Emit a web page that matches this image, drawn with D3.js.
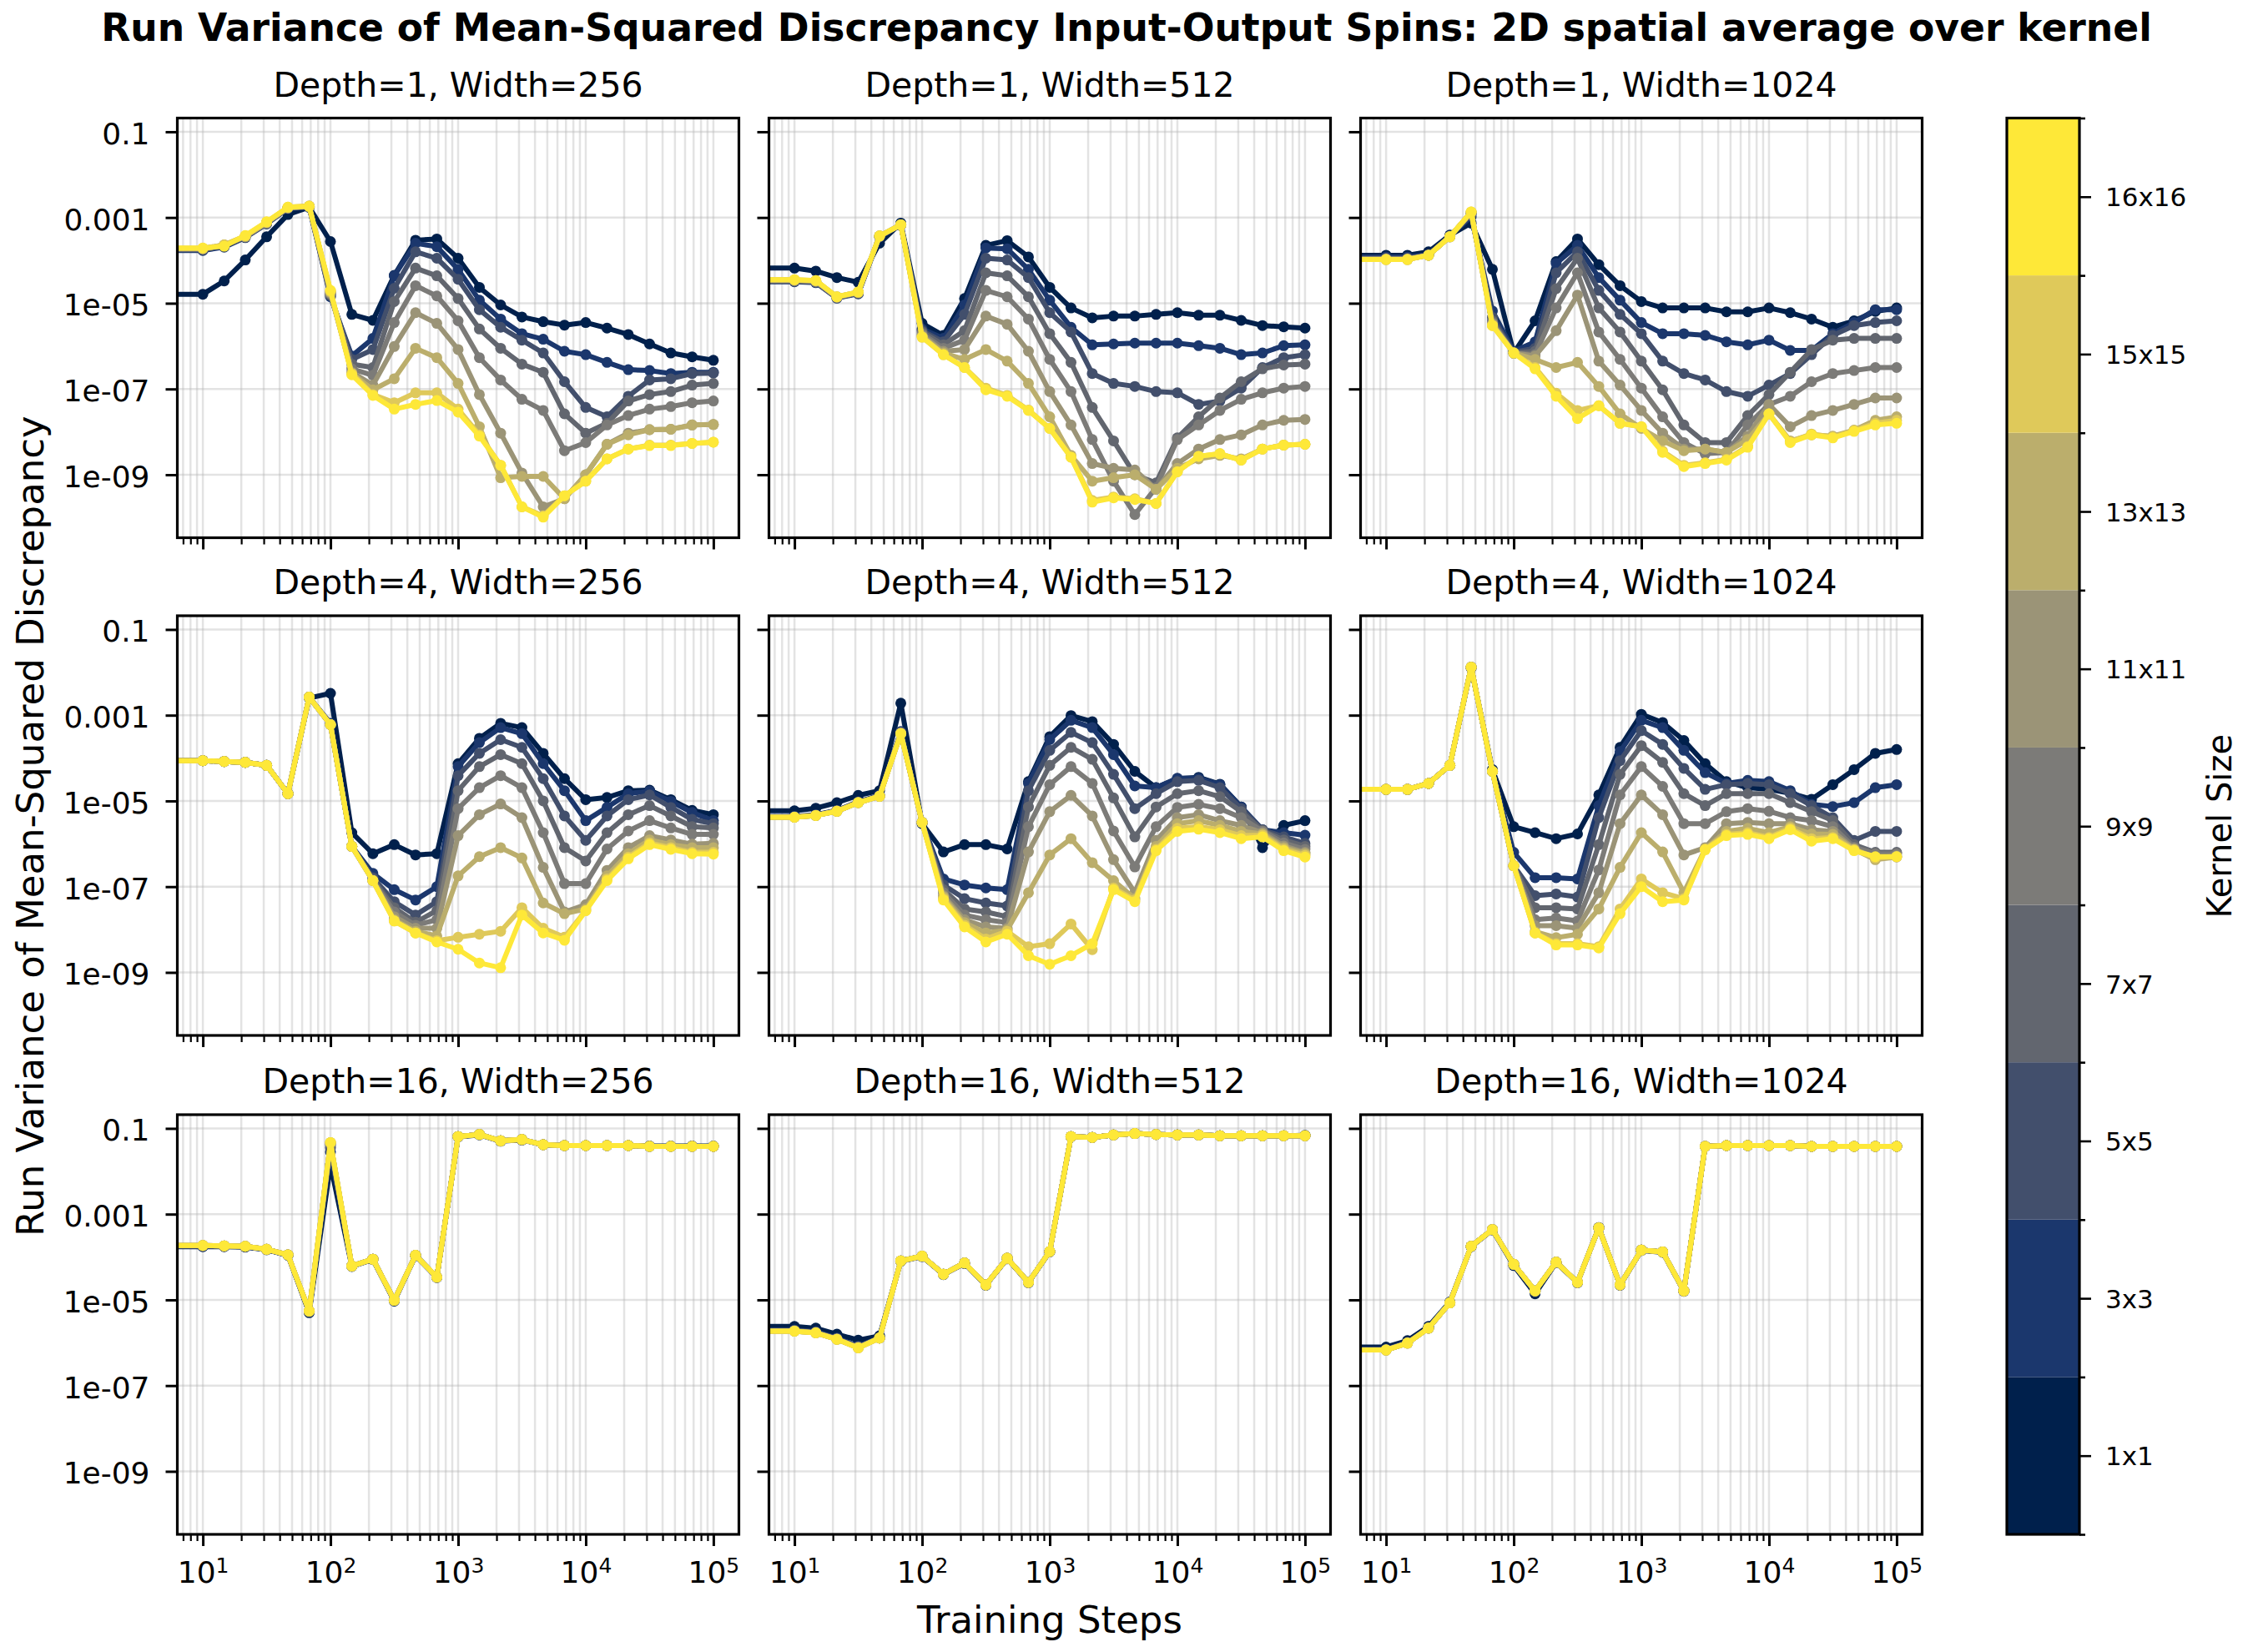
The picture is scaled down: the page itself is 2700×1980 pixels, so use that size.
<!DOCTYPE html>
<html>
<head>
<meta charset="utf-8">
<script src="https://cdn.jsdelivr.net/npm/d3@7"></script>
<style>
  body { margin: 0; background: #fff; }
  svg text { font-family: "DejaVu Sans", sans-serif; fill: #000; }
</style>
</head>
<body>
<svg id="chart" width="2700" height="1980"></svg>
<script>
// ---- data ------------------------------------------------------------
// training steps where each run was logged
var steps = [10, 14.7, 21.5, 31.6, 46.4, 68.1, 100, 147, 215, 316, 464, 681,
             1000, 1468, 2154, 3162, 4642, 6813, 10000, 14678, 21544, 31623, 46416, 68129, 100000];

var kernels = ['1x1', '3x3', '5x5', '7x7', '9x9', '11x11', '13x13', '15x15', '16x16'];
var depths = [1, 4, 16];
var widths = [256, 512, 1024];

// values are log10(run variance), one row per kernel size (1x1 ... 16x16)
var d1_w256 = [
  [-4.79,-4.48,-3.99,-3.45,-2.93,-2.76,-3.56,-5.26,-5.40,-4.35,-3.53,-3.50,-3.95,-4.63,-5.04,-5.32,-5.43,-5.51,-5.45,-5.58,-5.73,-5.95,-6.16,-6.25,-6.33],
  [-3.77,-3.69,-3.47,-3.15,-2.79,-2.76,-4.85,-6.23,-5.82,-4.36,-3.60,-3.68,-4.21,-4.93,-5.37,-5.71,-5.84,-6.12,-6.20,-6.38,-6.55,-6.57,-6.64,-6.61,-6.61],
  [-3.75,-3.67,-3.46,-3.14,-2.78,-2.75,-4.82,-6.31,-6.08,-4.65,-3.80,-3.95,-4.44,-5.15,-5.56,-5.86,-6.16,-6.83,-7.43,-7.65,-7.17,-6.79,-6.76,-6.64,-6.63],
  [-3.74,-3.66,-3.45,-3.13,-2.78,-2.75,-4.80,-6.42,-6.50,-4.96,-4.18,-4.36,-4.89,-5.60,-6.05,-6.42,-6.61,-7.58,-8.03,-7.80,-7.28,-7.13,-7.06,-6.91,-6.87],
  [-3.73,-3.65,-3.45,-3.13,-2.78,-2.74,-4.78,-6.53,-6.68,-5.45,-4.59,-4.83,-5.41,-6.27,-6.79,-7.24,-7.50,-8.44,-8.25,-7.84,-7.62,-7.47,-7.41,-7.32,-7.28],
  [-3.73,-3.65,-3.44,-3.12,-2.77,-2.74,-4.76,-6.61,-6.91,-6.01,-5.22,-5.47,-6.08,-7.13,-8.03,-8.96,-9.75,-9.56,-9.00,-8.29,-8.03,-7.95,-7.94,-7.84,-7.83],
  [-3.72,-3.64,-3.44,-3.12,-2.77,-2.74,-4.74,-6.64,-7.02,-6.76,-6.05,-6.27,-6.87,-7.88,-9.07,-9.04,-9.04,-9.56,-9.00,-8.29,-8.07,-7.95,-7.94,-7.84,-7.83],
  [-3.72,-3.64,-3.43,-3.11,-2.76,-2.73,-4.72,-6.64,-7.13,-7.32,-7.09,-7.09,-7.47,-8.07,-8.78,-9.75,-9.96,-9.49,-9.15,-8.63,-8.40,-8.31,-8.31,-8.27,-8.24],
  [-3.71,-3.67,-3.42,-3.10,-2.76,-2.74,-4.70,-6.67,-7.15,-7.47,-7.36,-7.27,-7.54,-8.10,-8.78,-9.75,-9.99,-9.49,-9.15,-8.63,-8.40,-8.32,-8.32,-8.27,-8.24]
];
var d1_w512 = [
  [-4.18,-4.25,-4.40,-4.51,-3.60,-3.13,-5.47,-5.75,-4.89,-3.65,-3.54,-3.92,-4.63,-5.11,-5.34,-5.30,-5.30,-5.26,-5.22,-5.28,-5.28,-5.40,-5.52,-5.55,-5.58],
  [-4.50,-4.52,-4.88,-4.78,-3.45,-3.18,-5.60,-5.82,-5.04,-3.71,-3.73,-4.21,-4.93,-5.56,-5.97,-5.95,-5.93,-5.93,-5.93,-5.99,-6.05,-6.20,-6.16,-5.99,-5.97],
  [-4.49,-4.51,-4.87,-4.77,-3.44,-3.18,-5.64,-5.90,-5.26,-3.95,-3.99,-4.40,-5.22,-5.67,-6.64,-6.87,-6.94,-7.06,-7.09,-7.36,-7.28,-6.98,-6.50,-6.27,-6.20],
  [-4.48,-4.50,-4.87,-4.76,-3.44,-3.17,-5.67,-5.97,-5.64,-4.29,-4.36,-4.85,-5.71,-6.38,-7.43,-8.21,-9.00,-9.19,-8.14,-7.65,-7.21,-6.83,-6.53,-6.44,-6.42],
  [-4.47,-4.49,-4.86,-4.75,-3.44,-3.17,-5.71,-6.05,-5.86,-4.70,-4.85,-5.37,-6.31,-7.06,-8.18,-9.15,-9.93,-9.30,-8.18,-7.84,-7.50,-7.24,-7.09,-6.98,-6.94],
  [-4.46,-4.48,-4.86,-4.75,-3.43,-3.17,-5.75,-6.12,-6.08,-5.30,-5.49,-6.12,-7.06,-7.84,-8.74,-8.85,-8.89,-9.34,-8.74,-8.40,-8.18,-8.07,-7.84,-7.73,-7.71],
  [-4.46,-4.48,-4.85,-4.74,-3.43,-3.17,-5.77,-6.16,-6.31,-6.08,-6.35,-6.87,-7.65,-8.55,-9.15,-9.07,-9.00,-9.34,-8.85,-8.63,-8.55,-8.63,-8.40,-8.31,-8.29],
  [-4.45,-4.47,-4.85,-4.74,-3.43,-3.17,-5.79,-6.20,-6.50,-6.98,-7.15,-7.49,-7.92,-8.59,-9.60,-9.52,-9.56,-9.67,-8.93,-8.57,-8.51,-8.66,-8.40,-8.31,-8.29],
  [-4.45,-4.47,-4.85,-4.74,-3.43,-3.17,-5.79,-6.20,-6.50,-7.02,-7.17,-7.50,-7.92,-8.59,-9.64,-9.54,-9.58,-9.67,-8.93,-8.57,-8.51,-8.66,-8.40,-8.31,-8.29]
];
var d1_w1024 = [
  [-3.88,-3.88,-3.80,-3.41,-3.13,-4.21,-6.16,-5.41,-4.03,-3.50,-4.10,-4.59,-4.96,-5.11,-5.11,-5.11,-5.20,-5.20,-5.11,-5.22,-5.37,-5.56,-5.41,-5.19,-5.11],
  [-3.92,-3.92,-3.86,-3.43,-2.98,-5.18,-6.12,-5.90,-4.07,-3.65,-4.40,-4.93,-5.45,-5.71,-5.71,-5.75,-5.90,-5.97,-5.86,-6.10,-6.10,-5.71,-5.45,-5.15,-5.15],
  [-3.95,-3.95,-3.87,-3.44,-2.93,-5.33,-6.14,-6.05,-4.29,-3.80,-4.70,-5.26,-5.71,-6.35,-6.64,-6.79,-7.06,-7.17,-6.91,-6.64,-6.20,-5.75,-5.52,-5.45,-5.41],
  [-3.96,-3.96,-3.87,-3.44,-2.90,-5.41,-6.16,-6.12,-4.66,-3.95,-5.11,-5.67,-6.35,-7.02,-7.84,-8.25,-8.25,-7.62,-7.13,-6.61,-6.08,-5.86,-5.82,-5.82,-5.82],
  [-3.97,-3.97,-3.88,-3.45,-2.89,-5.45,-6.16,-6.20,-5.11,-4.29,-5.67,-6.31,-6.98,-7.65,-8.25,-8.51,-8.48,-7.84,-7.36,-7.17,-6.83,-6.64,-6.57,-6.50,-6.50],
  [-3.97,-3.97,-3.88,-3.45,-2.88,-5.48,-6.16,-6.23,-5.64,-4.81,-6.35,-6.91,-7.50,-8.03,-8.40,-8.40,-8.48,-8.10,-7.36,-7.88,-7.62,-7.50,-7.36,-7.21,-7.21],
  [-3.98,-3.98,-3.88,-3.45,-2.88,-5.50,-6.16,-6.31,-6.50,-6.38,-6.94,-7.58,-7.92,-8.21,-8.44,-8.40,-8.48,-8.18,-7.58,-8.21,-8.07,-8.10,-7.96,-7.73,-7.65],
  [-3.98,-3.98,-3.88,-3.45,-2.87,-5.52,-6.16,-6.50,-7.10,-7.50,-7.39,-7.80,-7.88,-8.45,-8.78,-8.72,-8.64,-8.34,-7.58,-8.23,-8.05,-8.12,-7.97,-7.80,-7.73],
  [-3.98,-3.98,-3.88,-3.45,-2.87,-5.52,-6.16,-6.53,-7.17,-7.69,-7.39,-7.80,-7.88,-8.48,-8.81,-8.74,-8.66,-8.36,-7.58,-8.25,-8.07,-8.14,-7.99,-7.84,-7.80]
];
var d4_w256 = [
  [-4.06,-4.08,-4.10,-4.17,-4.83,-2.60,-2.49,-5.74,-6.23,-6.02,-6.26,-6.23,-4.13,-3.54,-3.19,-3.29,-3.89,-4.48,-4.97,-4.92,-4.76,-4.75,-4.97,-5.22,-5.32],
  [-4.06,-4.08,-4.10,-4.17,-4.83,-2.58,-3.19,-6.06,-6.69,-7.07,-7.31,-7.00,-4.20,-3.64,-3.29,-3.43,-4.13,-4.76,-5.46,-5.15,-4.83,-4.77,-5.01,-5.27,-5.46],
  [-4.06,-4.08,-4.10,-4.17,-4.83,-2.58,-3.22,-6.06,-6.79,-7.35,-7.66,-7.35,-4.41,-3.89,-3.57,-3.75,-4.48,-5.35,-5.92,-5.35,-4.97,-4.86,-5.15,-5.43,-5.53],
  [-4.06,-4.08,-4.10,-4.17,-4.83,-2.58,-3.22,-6.06,-6.83,-7.49,-7.83,-7.56,-4.76,-4.20,-3.92,-4.13,-5.00,-6.09,-6.40,-5.74,-5.32,-5.11,-5.35,-5.60,-5.63],
  [-4.06,-4.08,-4.10,-4.17,-4.83,-2.58,-3.22,-6.06,-6.86,-7.59,-7.90,-7.77,-5.18,-4.69,-4.41,-4.69,-5.74,-6.93,-6.93,-6.12,-5.70,-5.46,-5.63,-5.78,-5.78],
  [-4.06,-4.08,-4.10,-4.17,-4.83,-2.58,-3.22,-6.06,-6.86,-7.70,-7.97,-7.97,-5.81,-5.32,-5.07,-5.39,-6.55,-7.59,-7.42,-6.62,-6.09,-5.81,-5.91,-6.01,-5.99],
  [-4.06,-4.08,-4.10,-4.17,-4.83,-2.58,-3.22,-6.06,-6.86,-7.77,-8.04,-8.15,-6.75,-6.30,-6.09,-6.33,-7.38,-7.63,-7.52,-6.75,-6.23,-5.91,-6.02,-6.09,-6.09],
  [-4.06,-4.08,-4.10,-4.17,-4.83,-2.58,-3.22,-6.06,-6.86,-7.80,-8.08,-8.26,-8.18,-8.11,-8.04,-7.49,-7.97,-8.18,-7.56,-6.82,-6.31,-5.98,-6.09,-6.20,-6.20],
  [-4.06,-4.08,-4.10,-4.17,-4.83,-2.58,-3.22,-6.06,-6.86,-7.80,-8.08,-8.29,-8.46,-8.78,-8.89,-7.66,-8.08,-8.25,-7.56,-6.86,-6.35,-6.02,-6.13,-6.23,-6.24]
];
var d4_w512 = [
  [-5.23,-5.17,-5.04,-4.87,-4.76,-2.72,-5.53,-6.19,-6.02,-6.02,-6.12,-4.55,-3.50,-3.01,-3.15,-3.68,-4.31,-4.69,-4.48,-4.45,-4.61,-5.14,-6.09,-5.57,-5.46],
  [-5.36,-5.32,-5.22,-5.02,-4.87,-3.38,-5.50,-6.82,-6.96,-7.03,-7.07,-4.59,-3.57,-3.12,-3.29,-3.92,-4.65,-4.69,-4.47,-4.47,-4.62,-5.14,-5.67,-5.74,-5.80],
  [-5.37,-5.33,-5.23,-5.03,-4.88,-3.40,-5.50,-6.96,-7.28,-7.38,-7.45,-4.76,-3.82,-3.40,-3.64,-4.38,-5.18,-4.83,-4.55,-4.52,-4.69,-5.18,-5.67,-5.84,-5.99],
  [-5.37,-5.33,-5.23,-5.03,-4.88,-3.41,-5.50,-7.07,-7.52,-7.59,-7.70,-5.14,-4.17,-3.75,-4.03,-4.93,-5.84,-5.14,-4.83,-4.76,-4.90,-5.25,-5.69,-5.91,-6.06],
  [-5.38,-5.34,-5.24,-5.04,-4.89,-3.42,-5.50,-7.14,-7.66,-7.77,-7.84,-5.60,-4.62,-4.20,-4.59,-5.70,-6.54,-5.60,-5.15,-5.08,-5.18,-5.39,-5.70,-5.98,-6.13],
  [-5.38,-5.34,-5.24,-5.04,-4.89,-3.42,-5.50,-7.21,-7.77,-7.94,-7.97,-6.19,-5.25,-4.87,-5.35,-6.37,-7.14,-5.92,-5.39,-5.32,-5.46,-5.57,-5.74,-6.05,-6.20],
  [-5.38,-5.34,-5.24,-5.04,-4.89,-3.43,-5.50,-7.24,-7.84,-8.08,-8.01,-7.14,-6.26,-5.88,-6.44,-6.86,-7.28,-6.06,-5.53,-5.46,-5.57,-5.71,-5.77,-6.09,-6.23],
  [-5.38,-5.34,-5.24,-5.04,-4.89,-3.43,-5.50,-7.28,-7.90,-8.22,-8.04,-8.40,-8.33,-7.87,-8.47,-7.03,-7.31,-6.13,-5.64,-5.60,-5.67,-5.81,-5.80,-6.13,-6.27],
  [-5.38,-5.34,-5.24,-5.04,-4.89,-3.43,-5.50,-7.31,-7.94,-8.29,-8.11,-8.61,-8.81,-8.61,-8.33,-7.07,-7.35,-6.16,-5.71,-5.66,-5.74,-5.88,-5.84,-6.16,-6.31]
];
var d4_w1024 = [
  [-4.73,-4.73,-4.59,-4.17,-1.90,-4.27,-5.60,-5.74,-5.88,-5.77,-4.86,-3.75,-2.98,-3.17,-3.59,-4.13,-4.55,-4.69,-4.73,-4.82,-4.96,-4.62,-4.27,-3.89,-3.80],
  [-4.73,-4.73,-4.59,-4.17,-1.88,-4.31,-6.20,-6.79,-6.79,-6.82,-5.11,-3.85,-3.12,-3.29,-3.82,-4.34,-4.59,-4.52,-4.55,-4.76,-5.08,-5.13,-5.04,-4.69,-4.62],
  [-4.73,-4.73,-4.59,-4.17,-1.88,-4.31,-6.51,-7.21,-7.17,-7.24,-5.39,-4.06,-3.36,-3.68,-4.24,-4.73,-4.62,-4.59,-4.62,-4.83,-5.11,-5.39,-5.92,-5.71,-5.71],
  [-4.73,-4.73,-4.59,-4.17,-1.88,-4.31,-6.51,-7.49,-7.49,-7.52,-6.02,-4.38,-3.71,-4.10,-4.83,-5.11,-4.83,-4.83,-4.83,-5.04,-5.25,-5.46,-6.02,-6.20,-6.20],
  [-4.73,-4.73,-4.59,-4.17,-1.88,-4.31,-6.51,-7.77,-7.73,-7.80,-6.61,-4.86,-4.20,-4.66,-5.53,-5.53,-5.25,-5.18,-5.24,-5.39,-5.46,-5.60,-6.08,-6.23,-6.23],
  [-4.73,-4.73,-4.59,-4.17,-1.88,-4.31,-6.51,-7.91,-7.91,-7.97,-7.14,-5.53,-4.86,-5.32,-6.26,-6.09,-5.53,-5.50,-5.53,-5.53,-5.67,-5.71,-6.11,-6.33,-6.28],
  [-4.73,-4.73,-4.59,-4.17,-1.88,-4.31,-6.51,-8.05,-8.19,-8.11,-7.52,-6.55,-5.74,-6.19,-7.14,-6.12,-5.71,-5.64,-5.74,-5.60,-5.77,-5.78,-6.13,-6.37,-6.31],
  [-4.73,-4.73,-4.59,-4.17,-1.88,-4.31,-6.51,-8.08,-8.33,-8.33,-8.40,-7.52,-6.82,-7.14,-7.28,-6.12,-5.78,-5.74,-5.85,-5.64,-5.88,-5.85,-6.14,-6.33,-6.30],
  [-4.73,-4.73,-4.59,-4.17,-1.88,-4.31,-6.51,-8.08,-8.36,-8.36,-8.43,-7.63,-7.00,-7.35,-7.31,-6.14,-5.81,-5.78,-5.88,-5.67,-5.94,-5.88,-6.16,-6.30,-6.30]
];
var d16_w256 = [
  [-3.76,-3.76,-3.77,-3.83,-3.96,-5.30,-1.85,-4.22,-4.06,-5.03,-3.97,-4.48,-1.20,-1.15,-1.30,-1.27,-1.38,-1.40,-1.40,-1.40,-1.40,-1.41,-1.41,-1.41,-1.41],
  [-3.75,-3.75,-3.76,-3.83,-3.96,-5.28,-1.55,-4.21,-4.05,-5.02,-3.96,-4.47,-1.19,-1.14,-1.29,-1.26,-1.38,-1.40,-1.40,-1.40,-1.40,-1.42,-1.42,-1.42,-1.42],
  [-3.74,-3.75,-3.76,-3.82,-3.95,-5.27,-1.45,-4.21,-4.05,-5.01,-3.96,-4.47,-1.19,-1.14,-1.29,-1.26,-1.38,-1.40,-1.40,-1.40,-1.40,-1.42,-1.42,-1.42,-1.42],
  [-3.74,-3.74,-3.75,-3.82,-3.95,-5.27,-1.40,-4.21,-4.05,-5.01,-3.96,-4.47,-1.19,-1.14,-1.29,-1.26,-1.38,-1.40,-1.40,-1.40,-1.40,-1.42,-1.42,-1.42,-1.42],
  [-3.73,-3.74,-3.75,-3.82,-3.95,-5.26,-1.36,-4.21,-4.05,-5.01,-3.96,-4.47,-1.19,-1.14,-1.29,-1.26,-1.38,-1.40,-1.40,-1.40,-1.40,-1.42,-1.42,-1.42,-1.42],
  [-3.73,-3.74,-3.75,-3.82,-3.95,-5.26,-1.34,-4.21,-4.05,-5.01,-3.96,-4.47,-1.19,-1.14,-1.29,-1.26,-1.38,-1.40,-1.40,-1.40,-1.40,-1.42,-1.42,-1.42,-1.42],
  [-3.73,-3.74,-3.75,-3.82,-3.95,-5.26,-1.33,-4.21,-4.05,-5.01,-3.96,-4.47,-1.19,-1.14,-1.29,-1.26,-1.38,-1.40,-1.40,-1.40,-1.40,-1.42,-1.42,-1.42,-1.42],
  [-3.73,-3.74,-3.75,-3.82,-3.95,-5.26,-1.33,-4.21,-4.05,-5.01,-3.96,-4.47,-1.19,-1.14,-1.29,-1.26,-1.38,-1.40,-1.40,-1.40,-1.40,-1.42,-1.42,-1.42,-1.42],
  [-3.73,-3.74,-3.75,-3.82,-3.95,-5.26,-1.33,-4.21,-4.05,-5.01,-3.96,-4.47,-1.19,-1.14,-1.29,-1.26,-1.38,-1.40,-1.40,-1.40,-1.40,-1.42,-1.42,-1.42,-1.42]
];
var d16_w512 = [
  [-5.62,-5.66,-5.80,-5.94,-5.84,-4.10,-3.99,-4.41,-4.15,-4.66,-4.04,-4.60,-3.88,-1.19,-1.21,-1.15,-1.12,-1.14,-1.15,-1.15,-1.17,-1.17,-1.17,-1.17,-1.16],
  [-5.70,-5.74,-5.89,-6.08,-5.88,-4.09,-3.98,-4.40,-4.14,-4.65,-4.03,-4.59,-3.87,-1.19,-1.21,-1.15,-1.12,-1.14,-1.15,-1.15,-1.17,-1.17,-1.17,-1.17,-1.17],
  [-5.71,-5.75,-5.90,-6.09,-5.88,-4.09,-3.98,-4.40,-4.14,-4.65,-4.03,-4.59,-3.87,-1.19,-1.21,-1.15,-1.12,-1.14,-1.15,-1.15,-1.17,-1.17,-1.17,-1.17,-1.17],
  [-5.72,-5.76,-5.91,-6.10,-5.89,-4.09,-3.98,-4.40,-4.14,-4.65,-4.03,-4.59,-3.87,-1.19,-1.21,-1.15,-1.12,-1.14,-1.15,-1.15,-1.17,-1.17,-1.17,-1.17,-1.17],
  [-5.72,-5.76,-5.91,-6.11,-5.89,-4.09,-3.98,-4.40,-4.14,-4.65,-4.03,-4.59,-3.87,-1.19,-1.21,-1.15,-1.12,-1.14,-1.15,-1.15,-1.17,-1.17,-1.17,-1.17,-1.17],
  [-5.73,-5.77,-5.92,-6.11,-5.89,-4.09,-3.98,-4.40,-4.14,-4.65,-4.03,-4.59,-3.87,-1.19,-1.21,-1.15,-1.12,-1.14,-1.15,-1.15,-1.17,-1.17,-1.17,-1.17,-1.17],
  [-5.73,-5.77,-5.92,-6.12,-5.89,-4.09,-3.98,-4.40,-4.14,-4.65,-4.03,-4.59,-3.87,-1.19,-1.21,-1.15,-1.12,-1.14,-1.15,-1.15,-1.17,-1.17,-1.17,-1.17,-1.17],
  [-5.73,-5.77,-5.92,-6.12,-5.89,-4.09,-3.98,-4.40,-4.14,-4.65,-4.03,-4.59,-3.87,-1.19,-1.21,-1.15,-1.12,-1.14,-1.15,-1.15,-1.17,-1.17,-1.17,-1.17,-1.17],
  [-5.73,-5.77,-5.92,-6.12,-5.89,-4.09,-3.98,-4.40,-4.14,-4.65,-4.03,-4.59,-3.87,-1.19,-1.21,-1.15,-1.12,-1.14,-1.15,-1.15,-1.17,-1.17,-1.17,-1.17,-1.17]
];
var d16_w1024 = [
  [-6.10,-5.95,-5.62,-5.05,-3.76,-3.37,-4.20,-4.86,-4.13,-4.60,-3.31,-4.66,-3.85,-3.89,-4.80,-1.42,-1.40,-1.40,-1.40,-1.40,-1.42,-1.42,-1.42,-1.42,-1.42],
  [-6.15,-5.99,-5.65,-5.06,-3.75,-3.36,-4.18,-4.81,-4.12,-4.59,-3.32,-4.65,-3.84,-3.88,-4.79,-1.42,-1.40,-1.40,-1.40,-1.40,-1.42,-1.42,-1.42,-1.42,-1.42],
  [-6.16,-6.00,-5.66,-5.07,-3.75,-3.36,-4.17,-4.80,-4.12,-4.59,-3.32,-4.65,-3.84,-3.88,-4.79,-1.42,-1.40,-1.40,-1.40,-1.40,-1.42,-1.42,-1.42,-1.42,-1.42],
  [-6.16,-6.00,-5.66,-5.07,-3.75,-3.36,-4.17,-4.79,-4.12,-4.59,-3.32,-4.65,-3.84,-3.88,-4.79,-1.42,-1.40,-1.40,-1.40,-1.40,-1.42,-1.42,-1.42,-1.42,-1.42],
  [-6.17,-6.01,-5.66,-5.07,-3.75,-3.36,-4.17,-4.79,-4.12,-4.59,-3.32,-4.65,-3.84,-3.88,-4.79,-1.42,-1.40,-1.40,-1.40,-1.40,-1.42,-1.42,-1.42,-1.42,-1.42],
  [-6.17,-6.01,-5.66,-5.07,-3.75,-3.36,-4.17,-4.79,-4.12,-4.59,-3.32,-4.65,-3.84,-3.88,-4.79,-1.42,-1.40,-1.40,-1.40,-1.40,-1.42,-1.42,-1.42,-1.42,-1.42],
  [-6.17,-6.01,-5.66,-5.07,-3.75,-3.36,-4.17,-4.79,-4.12,-4.59,-3.32,-4.65,-3.84,-3.88,-4.79,-1.42,-1.40,-1.40,-1.40,-1.40,-1.42,-1.42,-1.42,-1.42,-1.42],
  [-6.17,-6.01,-5.66,-5.07,-3.75,-3.36,-4.17,-4.79,-4.12,-4.59,-3.32,-4.65,-3.84,-3.88,-4.79,-1.42,-1.40,-1.40,-1.40,-1.40,-1.42,-1.42,-1.42,-1.42,-1.42],
  [-6.17,-6.01,-5.66,-5.07,-3.75,-3.36,-4.17,-4.79,-4.12,-4.59,-3.32,-4.65,-3.84,-3.88,-4.79,-1.42,-1.40,-1.40,-1.40,-1.40,-1.42,-1.42,-1.42,-1.42,-1.42]
];

var yTicks = [1e-1, 1e-3, 1e-5, 1e-7, 1e-9];
var yTickLabels = ['0.1', '0.001', '1e-05', '1e-07', '1e-09'];
var xTicks = [10, 100, 1000, 10000, 100000];

// ---- layout / style --------------------------------------------------
var palette = ['#00204c', '#1b376d', '#424f6c', '#62666f', '#7c7b78', '#9b9477', '#bbae6c', '#dfc95a', '#fee838'];
var colLeft = [212.5, 921.5, 1630.5];
var rowTop = [141.5, 738, 1336];
var pw = 673, ph = 503;

var panels = [
  [d1_w256, d1_w512, d1_w1024],
  [d4_w256, d4_w512, d4_w1024],
  [d16_w256, d16_w512, d16_w1024]
];

var svg = d3.select('#chart');

var x = d3.scaleLog().domain([Math.pow(10, 0.8), Math.pow(10, 5.2)]).range([0, pw]);
var y = d3.scaleLog().domain([Math.pow(10, -10.47), Math.pow(10, -0.68)]).range([ph, 0]);

// minor ticks 2..9 x 10^k inside the x domain
var xMinor = [];
for (var e = 0; e < 5; e++) {
  for (var m = 2; m <= 9; m++) {
    var v = m * Math.pow(10, e);
    if (v > x.domain()[0] && v < x.domain()[1]) xMinor.push(v);
  }
}

var line = d3.line().x(function(d) { return d[0]; }).y(function(d) { return d[1]; });

depths.forEach(function(depth, r) {
  widths.forEach(function(width, c) {
    var data = panels[r][c];
    var g = svg.append('g').attr('transform', 'translate(' + colLeft[c] + ',' + rowTop[r] + ')');
    var clipId = 'clip-' + r + '-' + c;
    g.append('clipPath').attr('id', clipId)
      .append('rect').attr('width', pw).attr('height', ph);

    // grid
    var grid = g.append('g').attr('stroke', '#b0b0b0').attr('stroke-opacity', 0.35).attr('stroke-width', 2.5);
    grid.selectAll('line.gx').data(xTicks.concat(xMinor)).enter().append('line')
      .attr('x1', function(d) { return x(d); }).attr('x2', function(d) { return x(d); })
      .attr('y1', 0).attr('y2', ph);
    grid.selectAll('line.gy').data(yTicks).enter().append('line')
      .attr('y1', function(d) { return y(d); }).attr('y2', function(d) { return y(d); })
      .attr('x1', 0).attr('x2', pw);

    // series
    var plot = g.append('g').attr('clip-path', 'url(#' + clipId + ')');
    data.forEach(function(series, k) {
      var pts = series.map(function(lv, i) { return [x(steps[i]), y(Math.pow(10, lv))]; });
      // step 0 is off the log axis, so the trace enters flat from the left edge
      var path = [[x.range()[0] - 10, pts[0][1]]].concat(pts);
      var sg = plot.append('g');
      sg.append('path').attr('d', line(path))
        .attr('fill', 'none').attr('stroke', palette[k])
        .attr('stroke-width', 6).attr('stroke-linejoin', 'round').attr('stroke-linecap', 'round');
      sg.selectAll('circle').data(pts).enter().append('circle')
        .attr('cx', function(d) { return d[0]; }).attr('cy', function(d) { return d[1]; })
        .attr('r', 6.5).attr('fill', palette[k]);
    });

    // spines
    g.append('rect').attr('width', pw).attr('height', ph)
      .attr('fill', 'none').attr('stroke', '#000').attr('stroke-width', 3.2);

    // x ticks
    var xa = g.append('g').attr('transform', 'translate(0,' + ph + ')')
      .call(d3.axisBottom(x).tickValues(xTicks).tickSize(14).tickPadding(18).tickFormat(function() { return ''; }));
    var xm = g.append('g').attr('transform', 'translate(0,' + ph + ')')
      .call(d3.axisBottom(x).tickValues(xMinor).tickSize(8).tickFormat(function() { return ''; }));
    [xa, xm].forEach(function(a) {
      a.select('.domain').remove();
      a.selectAll('line').attr('stroke', '#000');
    });
    xa.selectAll('line').attr('stroke-width', 3);
    xm.selectAll('line').attr('stroke-width', 2.2);
    if (r === 2) {
      xa.selectAll('.tick text').each(function(d) {
        var t = d3.select(this).attr('font-size', 36).attr('dy', '0.71em').attr('y', 32);
        t.append('tspan').text('10');
        t.append('tspan').attr('font-size', 25).attr('dy', -12).text(String(Math.round(Math.log10(d))));
      });
    }

    // y ticks
    var ya = g.append('g')
      .call(d3.axisLeft(y).tickValues(yTicks).tickSize(14).tickPadding(19)
        .tickFormat(function(d, i) { return c === 0 ? yTickLabels[i] : ''; }));
    ya.select('.domain').remove();
    ya.selectAll('line').attr('stroke', '#000').attr('stroke-width', 3);
    ya.selectAll('text').attr('font-size', 36).attr('dy', '0.4em');

    // title
    g.append('text').attr('x', pw / 2).attr('y', -26)
      .attr('text-anchor', 'middle').attr('font-size', 41)
      .text('Depth=' + depth + ', Width=' + width);
  });
});

// ---- colorbar --------------------------------------------------------
var cbLeft = 2405, cbW = 87, cbTop = rowTop[0], cbBottom = rowTop[2] + ph;
var cb = d3.scaleLinear().domain([0, kernels.length]).range([cbBottom, cbTop]);
var cbg = svg.append('g').attr('transform', 'translate(' + cbLeft + ',0)');
cbg.selectAll('rect.band').data(kernels).enter().append('rect')
  .attr('x', 0).attr('width', cbW)
  .attr('y', function(d, i) { return cb(i + 1); })
  .attr('height', function(d, i) { return cb(i) - cb(i + 1); })
  .attr('fill', function(d, i) { return palette[i]; });
cbg.append('rect').attr('x', 0).attr('y', cbTop).attr('width', cbW).attr('height', cbBottom - cbTop)
  .attr('fill', 'none').attr('stroke', '#000').attr('stroke-width', 3.2);

var cbMajor = cbg.append('g').attr('transform', 'translate(' + cbW + ',0)')
  .call(d3.axisRight(cb).tickValues(d3.range(kernels.length).map(function(i) { return i + 0.5; }))
    .tickSize(14).tickPadding(17).tickFormat(function(d) { return kernels[Math.floor(d)]; }));
var cbMinor = cbg.append('g').attr('transform', 'translate(' + cbW + ',0)')
  .call(d3.axisRight(cb).tickValues(d3.range(kernels.length + 1)).tickSize(7).tickFormat(function() { return ''; }));
[cbMajor, cbMinor].forEach(function(a) {
  a.select('.domain').remove();
  a.selectAll('line').attr('stroke', '#000').attr('stroke-width', 2.6);
});
cbMajor.selectAll('text').attr('font-size', 31).attr('dy', '0.36em');

// ---- figure labels -----------------------------------------------------
svg.append('text').attr('x', 1350).attr('y', 49).attr('text-anchor', 'middle')
  .attr('font-size', 45.6).attr('font-weight', 'bold')
  .text('Run Variance of Mean-Squared Discrepancy Input-Output Spins: 2D spatial average over kernel');

svg.append('text').attr('x', (colLeft[0] + colLeft[2] + pw) / 2).attr('y', 1957)
  .attr('text-anchor', 'middle').attr('font-size', 45).text('Training Steps');

svg.append('text').attr('transform', 'translate(52,' + ((rowTop[0] + rowTop[2] + ph) / 2) + ') rotate(-90)')
  .attr('text-anchor', 'middle').attr('font-size', 45).text('Run Variance of Mean-Squared Discrepancy');

svg.append('text').attr('transform', 'translate(2674,' + ((cbTop + cbBottom) / 2) + ') rotate(-90)')
  .attr('text-anchor', 'middle').attr('font-size', 40).text('Kernel Size');
</script>
</body>
</html>
